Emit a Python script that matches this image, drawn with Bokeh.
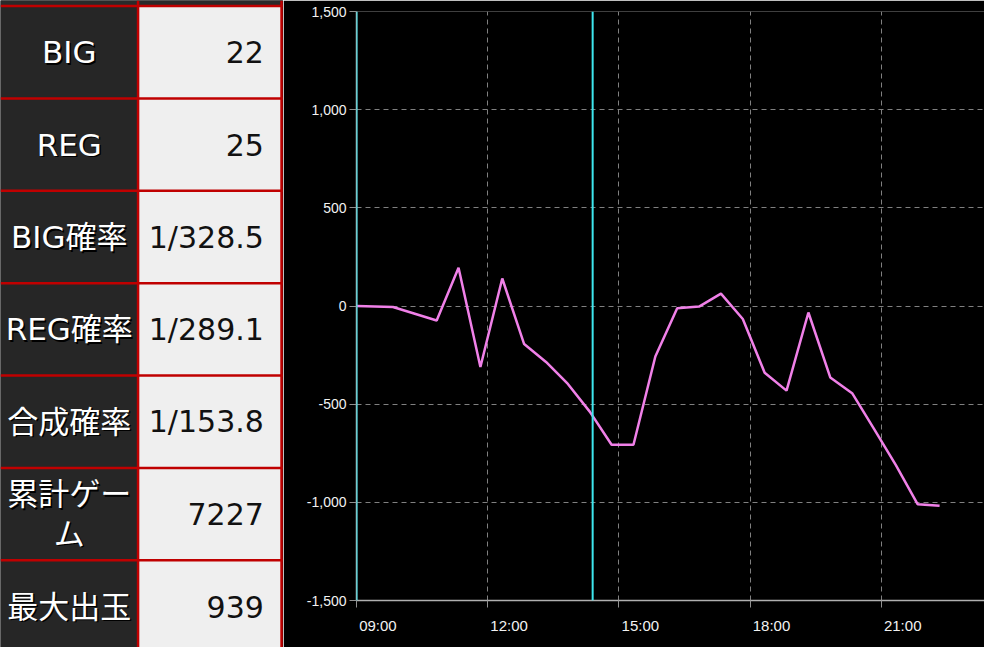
from bokeh.plotting import figure
from bokeh.layouts import row
from bokeh.models import Range1d, Span, FixedTicker, NumeralTickFormatter, LinearAxis
from bokeh.core.properties import value
from bokeh.embed import file_html
from bokeh.resources import INLINE

# ---------------- data ----------------
labels = ["BIG", "REG", "BIG確率", "REG確率", "合成確率", "累計ゲーム", "最大出玉"]
label_display = ["BIG", "REG", "BIG確率", "REG確率", "合成確率", "累計ゲー\nム", "最大出玉"]
values_txt = ["22", "25", "1/328.5", "1/289.1", "1/153.8", "7227", "939"]

times = ["09:00", "09:50", "10:50", "11:20", "11:50", "12:20", "12:50", "13:20",
         "13:50", "14:20", "14:50", "15:20", "15:50", "16:20", "16:50", "17:20",
         "17:50", "18:20", "18:50", "19:20", "19:50", "20:20", "20:50", "21:20",
         "21:50", "22:20"]
diff = [0, -5, -74, 195, -311, 140, -194, -285, -397, -538, -707, -707, -257,
        -12, -3, 63, -66, -340, -431, -33, -364, -444, -626, -811, -1010, -1018]

x_tick_labels = ["09:00", "12:00", "15:00", "18:00", "21:00"]
y_ticks = [-1500, -1000, -500, 0, 500, 1000, 1500]
markers = ["09:00", "14:24"]


def hours(s):
    h, m = s.split(":")
    return int(h) + int(m) / 60.0


# ---------------- table ----------------
LBL_FONT = value("DejaVu Sans, Noto Sans CJK JP")
VAL_FONT = value("DejaVu Sans")
t = figure(width=283, height=647, x_range=Range1d(0, 288), y_range=Range1d(663, 0),
           toolbar_location=None, output_backend="svg", min_border=0,
           x_axis_type=None, y_axis_type=None, outline_line_color=None,
           background_fill_color="black", border_fill_color="black")
t.frame_align = False
t.grid.visible = False

row_top = 5.7
row_h = 94.67
n = len(labels)
tops = [row_top + i * row_h for i in range(n)]
bottoms = [v + row_h for v in tops]
mids = [v + row_h / 2 for v in tops]

t.quad(left=0, right=287, top=-5, bottom=row_top, fill_color="#2a2a2a", line_color=None)
t.quad(left=[0] * n, right=[140] * n, top=tops, bottom=bottoms,
       fill_color="#262626", line_color=None)
t.quad(left=[140] * n, right=[286] * n, top=tops, bottom=bottoms,
       fill_color="#efefef", line_color=None)

hb = [row_top] + bottoms
t.segment(x0=[0] * len(hb), x1=[287] * len(hb), y0=hb, y1=hb,
          line_color="#c00000", line_width=2.5)
t.segment(x0=[140, 286], x1=[140, 286], y0=[0, 0], y1=[663, 663],
          line_color="#c00000", line_width=2.5)

t.text(x=[70] * n, y=mids, text=label_display, text_color="#000000",
       text_font=LBL_FONT, text_font_size="31px", text_align="center",
       text_baseline="middle", x_offset=1.5, y_offset=1.5, text_line_height=1.1)
t.text(x=[70] * n, y=mids, text=label_display, text_color="#ffffff",
       text_font=LBL_FONT, text_font_size="31px", text_align="center",
       text_baseline="middle", text_line_height=1.1)
t.text(x=[268] * n, y=mids, text=values_txt, text_color="#111111",
       text_font=VAL_FONT, text_font_size="30px", text_align="right",
       text_baseline="middle")

# ---------------- chart ----------------
c = figure(width=701, height=647, x_range=Range1d(9.0, 23.36), y_range=Range1d(-1500, 1500),
           toolbar_location=None, output_backend="svg",
           background_fill_color="black", border_fill_color="black",
           outline_line_color=None, min_border_left=73, min_border_right=0,
           min_border_top=11, min_border_bottom=47)
c.frame_align = False

xt = [hours(s) for s in x_tick_labels]
c.xaxis.ticker = FixedTicker(ticks=xt)
c.xgrid.ticker = FixedTicker(ticks=xt)
c.yaxis.ticker = FixedTicker(ticks=y_ticks)
c.ygrid.ticker = FixedTicker(ticks=y_ticks)
c.yaxis.formatter = NumeralTickFormatter(format="0,0")

for ax in (c.xaxis[0], c.yaxis[0]):
    ax.axis_line_color = "#b0b0b0"
    ax.axis_line_width = 1.5
    ax.major_tick_line_color = "#909090"
    ax.major_tick_out = 7
    ax.major_tick_in = 0
    ax.minor_tick_line_color = None
    ax.major_label_text_color = "#f2f2f2"
    ax.major_label_text_font = "Liberation Sans"
    ax.major_label_text_font_size = "14px"
c.yaxis.major_label_standoff = 3
# main x axis: tick marks only; the labels come from a second axis, left-aligned to the ticks
c.xaxis.major_label_text_color = None
c.xaxis.major_label_text_font_size = "1px"
c.xaxis.major_label_standoff = 0

label_shift = 0.49  # hours: places each label just right of its tick
lab_pos = [h + label_shift for h in xt]
lab_axis = LinearAxis(ticker=FixedTicker(ticks=lab_pos),
                      major_label_overrides={p: s for p, s in zip(lab_pos, x_tick_labels)},
                      axis_line_color=None, major_tick_line_color=None,
                      minor_tick_line_color=None, major_label_standoff=3,
                      major_label_text_color="#f2f2f2",
                      major_label_text_font="Liberation Sans",
                      major_label_text_font_size="15px")
c.add_layout(lab_axis, "below")

c.grid.grid_line_color = "#808080"
c.grid.grid_line_dash = "5 4"
c.grid.grid_line_width = 1

c.line(x=[hours(s) for s in times], y=diff, line_color="#f080e8", line_width=2.5)

for m in markers:
    c.add_layout(Span(location=hours(m), dimension="height", line_color="#3ee6ee", line_width=2))

layout = row(t, c, spacing=0)
open("out.html", "w").write(file_html(layout, INLINE))
